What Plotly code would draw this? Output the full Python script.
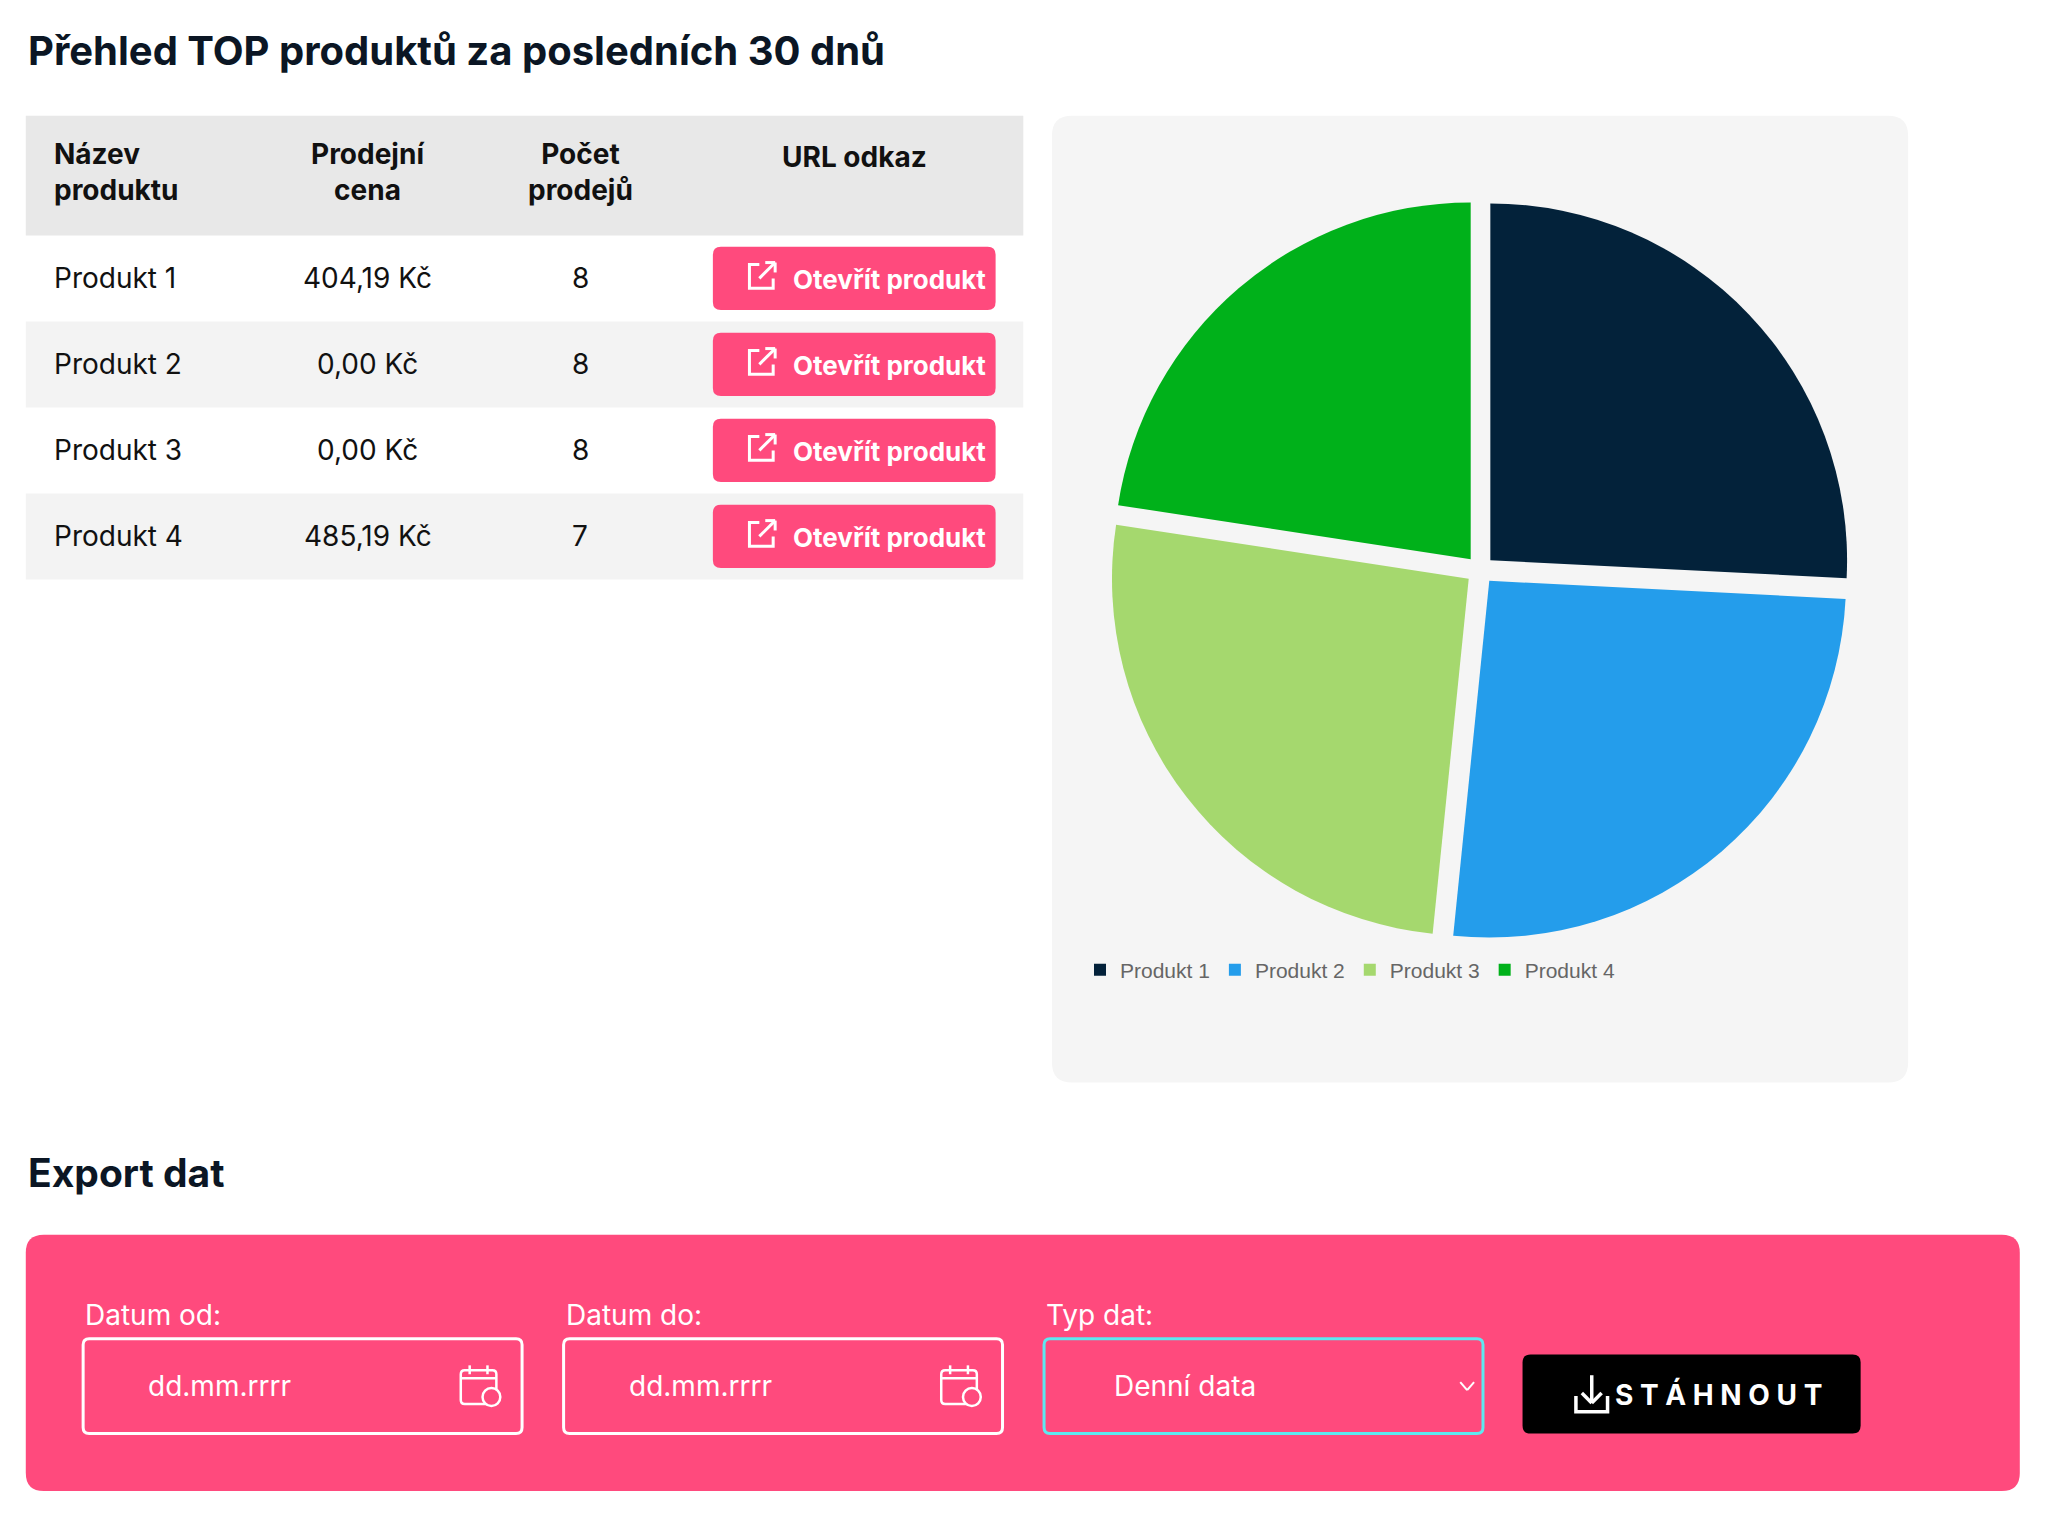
import plotly.graph_objects as go

# data
produkty = ["Produkt 1", "Produkt 2", "Produkt 3", "Produkt 4"]
ceny = ["404,19 Kč", "0,00 Kč", "0,00 Kč", "485,19 Kč"]
prodeje = [8, 8, 8, 7]
hlavicky = ["Název<br>produktu", "Prodejní<br>cena", "Počet<br>prodejů", "URL odkaz"]
barvy = ["#03223a", "#249deb", "#a5d86e", "#00b11a"]
pole = ["Datum od:", "Datum do:", "Typ dat:"]
hodnoty_pole = ["dd.mm.rrrr", "dd.mm.rrrr", "Denní data"]

W, H = 2048, 1523
S = 0.9886  # layout scale
PINK = "#ff4a7d"
FONT = "Inter"

fig = go.Figure()
shapes = []
ann = []


def rrect(x0, y0, x1, y1, r, fill, line=None, lw=0):
    x0, y0, x1, y1 = x0 * S, y0 * S, x1 * S, y1 * S
    p = (f"M{x0+r},{y0} L{x1-r},{y0} Q{x1},{y0} {x1},{y0+r} L{x1},{y1-r} Q{x1},{y1} {x1-r},{y1} "
         f"L{x0+r},{y1} Q{x0},{y1} {x0},{y1-r} L{x0},{y0+r} Q{x0},{y0} {x0+r},{y0} Z")
    shapes.append(dict(type="path", path=p, xref="x", yref="y", fillcolor=fill,
                       line=dict(color=line or fill, width=lw), layer="below"))


def rect(x0, y0, x1, y1, fill):
    shapes.append(dict(type="rect", x0=x0 * S, y0=y0 * S, x1=x1 * S, y1=y1 * S, xref="x", yref="y",
                       fillcolor=fill, line_width=0, layer="below"))


def txt(x, y, s, size=28, color="#111111", bold=False, xa="left"):
    if bold:
        s = f"<b>{s}</b>"
    ann.append(dict(x=x * S, y=y * S, xref="x", yref="y", text=s, showarrow=False, xanchor=xa,
                    yanchor="middle", align=xa, font=dict(family=FONT, size=size, color=color)))


def line(x0, y0, x1, y1, color="white", w=3):
    shapes.append(dict(type="line", x0=x0 * S, y0=y0 * S, x1=x1 * S, y1=y1 * S, xref="x", yref="y",
                       line=dict(color=color, width=w)))


def path(pts, w=3):
    d = "M" + " L".join(f"{a*S},{b*S}" for a, b in pts)
    shapes.append(dict(type="path", xref="x", yref="y", path=d, line=dict(color="white", width=w)))


# title
txt(18, 43, "Přehled TOP produktů za posledních 30 dnů", 40, "#0b1624", True)

# table
rect(18, 109, 1027, 230, "#e8e8e8")
col_x = [45, 364, 579, 856]
col_a = ["left", "center", "center", "center"]
for i, h in enumerate(hlavicky):
    ty = 151 if i == 3 else 166
    txt(col_x[i], ty, h, 28, "#111111", True, col_a[i])

row_h = 87
for i, p in enumerate(produkty):
    y0 = 230 + i * row_h
    yc = y0 + row_h / 2
    if i % 2 == 1:
        rect(18, y0, 1027, y0 + row_h, "#f3f3f3")
    txt(col_x[0], yc, p, 28)
    txt(col_x[1], yc, ceny[i], 28, xa="center")
    txt(col_x[2], yc, str(prodeje[i]), 28, xa="center")
    rrect(713, yc - 32, 999, yc + 32, 8, PINK)
    txt(892, yc + 1, "Otevřít produkt", 26, "white", True, "center")
    # external link icon
    ix, iy = 750, yc - 14
    path([(ix + 10, iy), (ix, iy), (ix, iy + 24), (ix + 24, iy + 24), (ix + 24, iy + 14)])
    line(ix + 10, iy + 14, ix + 26, iy - 2)
    line(ix + 16, iy - 2, ix + 26, iy - 2)
    line(ix + 26, iy - 2, ix + 26, iy + 8)

# pie panel
rrect(1056, 109, 1922, 1087, 20, "#f5f5f5")
fig.add_trace(go.Pie(labels=produkty, values=prodeje, marker=dict(colors=barvy),
                     sort=False, direction="clockwise", rotation=0, pull=0.04,
                     textinfo="none", hoverinfo="label+value",
                     domain=dict(x=[1101 / W, 1843 / W], y=[1 - 933 / H, 1 - 191 / H])))

# export section
txt(18, 1178, "Export dat", 39, "#0b1624", True)
rrect(18, 1241, 2035, 1500, 18, PINK)
box_x = [76, 562, 1048]
for i, lab in enumerate(pole):
    x0 = box_x[i]
    txt(x0, 1322, lab, 28, "white")
    border = "#5ee8f0" if i == 2 else "white"
    rrect(x0, 1346, x0 + 444, 1442, 6, PINK, border, 3)
    txt(x0 + (69 if i == 2 else 64), 1394, hodnoty_pole[i], 28, "white")
    if i < 2:
        cx, cy = x0 + 400, 1394
        rrect(cx - 18, cy - 16, cx + 18, cy + 18, 4, PINK, "white", 2.5)
        line(cx - 18, cy - 8, cx + 18, cy - 8, w=2.5)
        line(cx - 9, cy - 21, cx - 9, cy - 12, w=2.5)
        line(cx + 9, cy - 21, cx + 9, cy - 12, w=2.5)
        shapes.append(dict(type="circle", x0=(cx + 4) * S, y0=(cy + 2) * S, x1=(cx + 22) * S,
                           y1=(cy + 20) * S, xref="x", yref="y", fillcolor=PINK,
                           line=dict(color="white", width=2.5)))
    else:
        line(x0 + 421, 1390, x0 + 428, 1398, w=2)
        line(x0 + 428, 1398, x0 + 435, 1390, w=2)

rrect(1532, 1362, 1874, 1442, 8, "black")
txt(1730, 1402, "S T Á H N O U T", 28, "white", True, "center")
line(1602, 1383, 1602, 1411, w=3.5)
line(1592, 1401, 1602, 1411, w=3.5)
line(1612, 1401, 1602, 1411, w=3.5)
path([(1586, 1404), (1586, 1420), (1618, 1420), (1618, 1404)], w=3.5)

fig.update_layout(
    width=W, height=H, margin=dict(l=0, r=0, t=0, b=0),
    paper_bgcolor="white", plot_bgcolor="white",
    xaxis=dict(range=[0, W], visible=False, fixedrange=True),
    yaxis=dict(range=[H, 0], visible=False, fixedrange=True),
    shapes=shapes, annotations=ann,
    showlegend=True,
    legend=dict(orientation="h", x=1072 / W, y=1 - 962 / H, xanchor="left", yanchor="middle",
                font=dict(family="Liberation Sans", size=21, color="#666666"),
                bgcolor="rgba(0,0,0,0)", itemwidth=30),
)
fig.write_html("out.html")
